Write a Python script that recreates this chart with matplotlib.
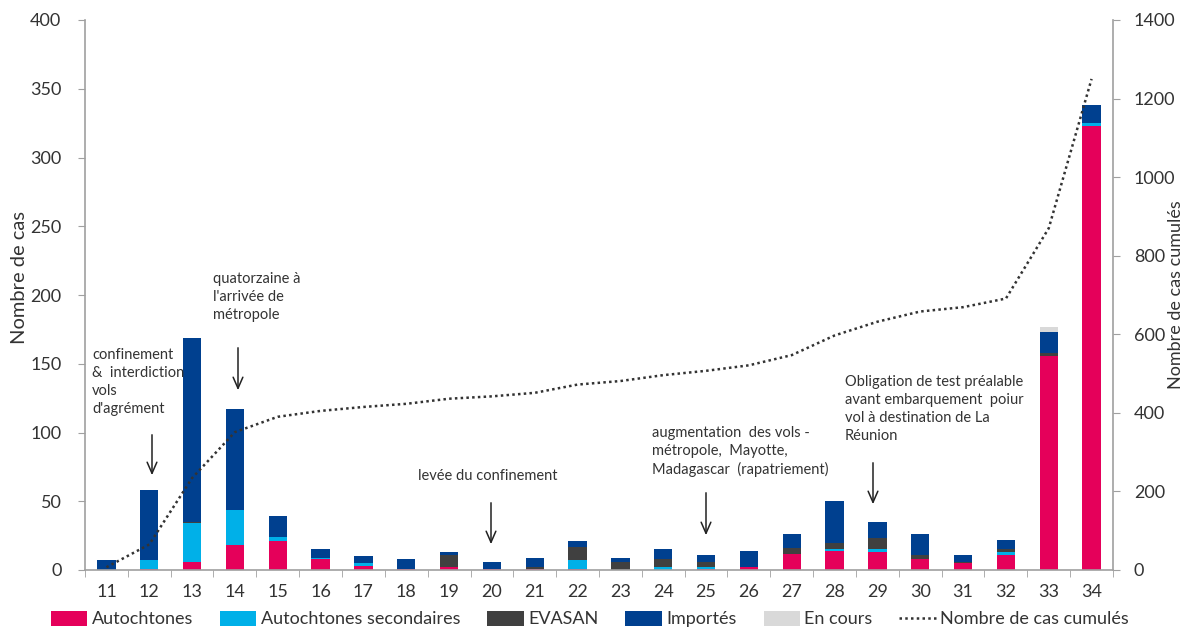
import matplotlib
matplotlib.use("Agg")
import matplotlib.pyplot as plt
import numpy as np

weeks = [str(w) for w in range(11, 35)]
autochtones = [0, 1, 6, 18, 21, 8, 3, 1, 2, 1, 1, 1, 0, 0, 1, 2, 12, 14, 13, 8, 5, 11, 156, 323]
secondaires = [0, 6, 28, 26, 3, 1, 2, 0, 0, 0, 0, 6, 0, 2, 1, 0, 0, 1, 2, 0, 0, 2, 0, 2]
evasan = [0, 0, 1, 0, 0, 0, 0, 0, 9, 0, 1, 10, 6, 6, 4, 0, 4, 5, 8, 3, 1, 2, 2, 0]
importes = [7, 51, 134, 73, 15, 6, 5, 7, 2, 5, 7, 4, 3, 7, 5, 12, 10, 30, 12, 15, 5, 7, 15, 13]
en_cours = [0] * 22 + [4, 0]
cumules = [7, 65, 234, 351, 390, 405, 415, 423, 436, 442, 451, 472, 481, 496, 507, 521,
           547, 597, 632, 658, 669, 691, 870, 1250]

series = [
    ("Autochtones", autochtones, "#E5005A"),
    ("Autochtones secondaires", secondaires, "#00B0E8"),
    ("EVASAN", evasan, "#404040"),
    ("Importés", importes, "#00408F"),
    ("En cours", en_cours, "#D9D9D9"),
]

plt.rcParams['font.family'] = ['Lato', 'DejaVu Sans']
TXT = '#333333'
W, H = 1187, 629
fig = plt.figure(figsize=(W / 100, H / 100), dpi=100)
ax = fig.add_axes([85 / W, 1 - 570 / H, (1113 - 85) / W, (570 - 20) / H])

x = np.arange(len(weeks))
bottom = np.zeros(len(weeks))
handles = []
for name, vals, col in series:
    v = np.array(vals, dtype=float)
    b = ax.bar(x, v, 0.43, bottom=bottom, color=col, label=name, zorder=2)
    handles.append(b)
    bottom += v

ax.set_xlim(-0.5, len(weeks) - 0.5)
ax.set_ylim(0, 400)
ax.set_yticks(range(0, 401, 50))
ax.set_xticks(x)
ax.set_xticklabels(weeks)
ax.set_xticks(np.arange(-0.5, len(weeks), 1), minor=True)
ax.tick_params(axis='x', which='major', length=0, pad=10, labelsize=13, labelcolor=TXT)
ax.tick_params(axis='x', which='minor', length=5, color='#A0A0A0', direction='out')
ax.tick_params(axis='y', length=5, color='#A0A0A0', labelsize=13, labelcolor=TXT, pad=12)
for s in ['top', 'right']:
    ax.spines[s].set_visible(False)
for s in ['left', 'bottom']:
    ax.spines[s].set_color('#A0A0A0')
    ax.spines[s].set_linewidth(1.2)

ax2 = ax.twinx()
line, = ax2.plot(x, cumules, linestyle=(0, (1, 1.3)), color='#333333', linewidth=1.8,
                 label="Nombre de cas cumulés", zorder=3)
ax2.set_ylim(0, 1400)
ax2.set_yticks(range(0, 1401, 200))
ax2.tick_params(axis='y', length=5, color='#A0A0A0', labelsize=13, labelcolor=TXT, pad=10)
for s in ['top', 'left', 'bottom']:
    ax2.spines[s].set_visible(False)
ax2.spines['right'].set_color('#A0A0A0')
ax2.spines['right'].set_linewidth(1.2)
ax.set_zorder(ax2.get_zorder() - 1)
ax.patch.set_visible(False)


def fp(px, py):
    return (px / W, 1 - py / H)


fig.text(*fp(20, 278), "Nombre de cas", rotation=90, fontsize=14.5, color=TXT,
         ha='center', va='center')
fig.text(*fp(1176, 295), "Nombre de cas cumulés", rotation=90, fontsize=13, color=TXT,
         ha='center', va='center')

notes = [
    ("confinement\n&  interdiction\nvols\nd'agrément", 92, 348, 152, 432, 478),
    ("quatorzaine à\nl'arrivée de\nmétropole", 213, 272, 238, 345, 393),
    ("levée du confinement", 418, 469, 491, 500, 547),
    ("augmentation  des vols -\nmétropole,  Mayotte,\nMadagascar  (rapatriement)", 652, 426, 706, 490, 538),
    ("Obligation de test préalable\navant embarquement  poiur\nvol à destination de La\nRéunion", 845, 375, 873, 460, 507),
]
for txt, tx, ty, axp, y0, y1 in notes:
    fig.text(*fp(tx, ty), txt, fontsize=10.5, color=TXT, ha='left', va='top', linespacing=1.35)
    ax.annotate("", xy=fp(axp, y1), xytext=fp(axp, y0), xycoords='figure fraction',
                textcoords='figure fraction',
                arrowprops=dict(arrowstyle='->,head_length=0.8,head_width=0.35', color='#222222', lw=1.1))

fig.legend(handles + [line], [s[0] for s in series] + ["Nombre de cas cumulés"],
           loc='center', bbox_to_anchor=(590 / W, 1 - 619 / H), ncol=6, frameon=False,
           fontsize=13, handlelength=2.0, handleheight=0.9, handletextpad=0.25,
           columnspacing=1.5, labelcolor=TXT, borderaxespad=0)

fig.savefig("out.png", dpi=100)
